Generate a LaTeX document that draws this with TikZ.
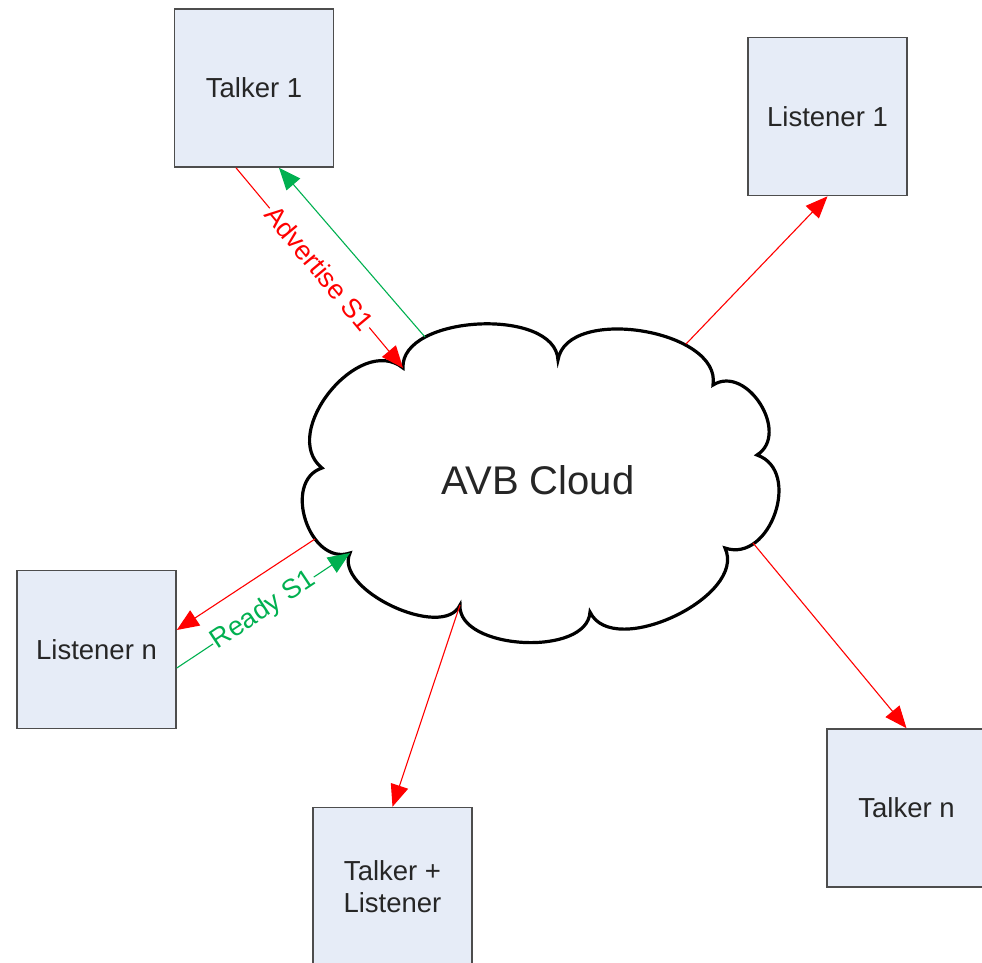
\documentclass[tikz,border=0pt]{standalone}
\usepackage{fontspec}
\setmainfont{Liberation Sans}
\usetikzlibrary{arrows.meta,calc}
\definecolor{boxfill}{RGB}{230,236,247}
\definecolor{boxline}{RGB}{77,77,77}
\definecolor{avbred}{RGB}{255,0,0}
\definecolor{avbgreen}{RGB}{0,176,80}
\definecolor{txt}{RGB}{38,38,38}
\begin{document}
\begin{tikzpicture}[x=1pt,y=-1pt,
  box/.style={draw=boxline, fill=boxfill, line width=1.6pt, minimum width=159pt,
    minimum height=158pt, inner sep=0pt, font=\fontsize{27.5}{32}\selectfont,
    text=txt, align=center},
  redarrow/.style={draw=avbred, line width=1.1pt, -{Triangle[length=22pt,width=18pt]}, color=avbred},
  greenarrow/.style={draw=avbgreen, line width=1.1pt, -{Triangle[length=22pt,width=18pt]}, color=avbgreen},
  lbl/.style={midway, sloped, fill=white, inner sep=1pt, font=\fontsize{27}{30}\selectfont}]
\path[use as bounding box] (0,0) rectangle (982,962);
\clip (0,0) rectangle (982,962);

% boxes
\node[box] (t1) at (254,88) {Talker 1};
\node[box] (l1) at (827.5,116.5) {Listener 1};
\node[box] (ln) at (96.5,649.5) {Listener n};
\node[box] (tl) at (392.5,886.5) {Talker +\\Listener};
\node[box] (tn) at (906.5,808) {Talker n};

% cloud notch points
\coordinate (c1) at (403,368);
\coordinate (c2) at (558,360);
\coordinate (c3) at (713,385);
\coordinate (c4) at (757,455);
\coordinate (c5) at (725,548);
\coordinate (c6) at (590,612);
\coordinate (c7) at (460,605);
\coordinate (c8) at (350,553);
\coordinate (c9) at (322,468);

\draw[line width=3.2pt, fill=white]
  (c1) .. controls (400.3,314.7) and (555.3,306.7) .. (c2)
       .. controls (566.9,304.7) and (721.9,329.7) .. (c3)
       .. controls (746.8,363.7) and (790.8,433.7) .. (c4)
       .. controls (802.4,470.6) and (770.4,563.6) .. (c5)
       .. controls (747.8,596.2) and (612.8,660.2) .. (c6)
       .. controls (587.6,657.2) and (457.6,650.2) .. (c7)
       .. controls (442.9,641.2) and (332.9,589.2) .. (c8)
       .. controls (309.5,566.4) and (281.5,481.4) .. (c9)
       .. controls (278.5,432.8) and (359.5,332.8) .. (c1) -- cycle;
\node[font=\fontsize{40}{46}\selectfont, text=txt] (cloud) at (538,480) {AVB Cloud};

% attachment points on the cloud
\coordinate (gT1) at (425,337);
\coordinate (rL1) at (686,344);
\coordinate (rLn) at (315,539);
\coordinate (rTn) at (753,543);

% connectors
\draw[redarrow] ($(t1.south)+(-18,0)$) -- (c1)
  node[lbl, text=avbred] {Advertise S1};
\draw[greenarrow] (gT1) -- ($(t1.south)+(25,0)$);
\draw[redarrow] (rL1) -- (l1.south);
\draw[redarrow] (rLn) -- ($(ln.east)+(0,-19.5)$);
\draw[greenarrow] ($(ln.east)+(0,18.5)$) -- (c8)
  node[lbl, text=avbgreen] {Ready S1};
\draw[redarrow] (c7) -- (tl.north);
\draw[redarrow] (rTn) -- (tn.north);
\end{tikzpicture}
\end{document}
